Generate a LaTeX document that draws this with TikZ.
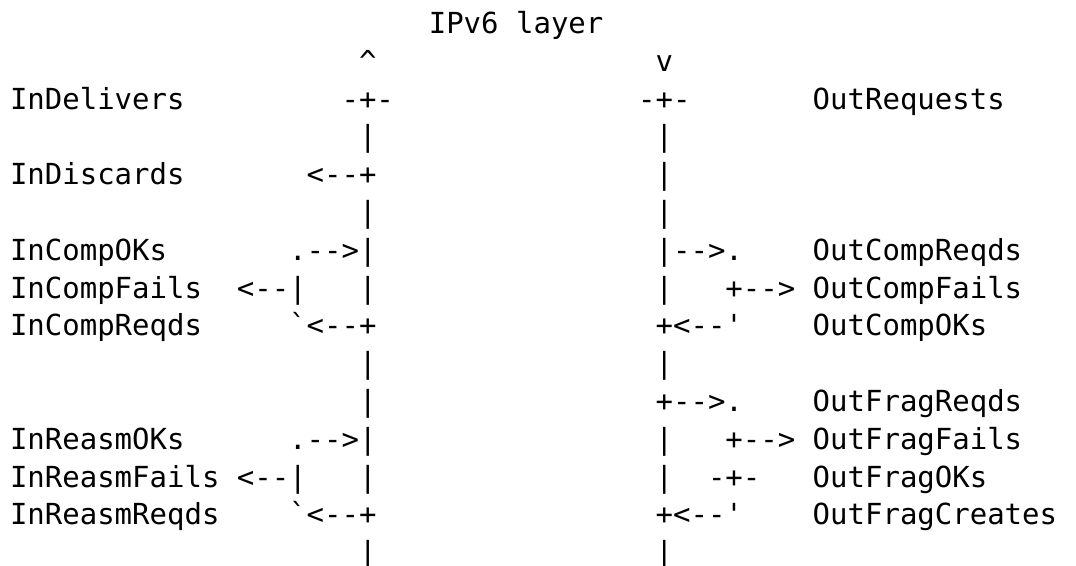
\documentclass[tikz,border=0pt]{standalone}
\usepackage{fontspec}
\setmonofont{DejaVu Sans Mono}
\tikzset{
  txt/.style={anchor=base west, inner sep=0pt, outer sep=0pt,
    font=\ttfamily\fontsize{29}{35}\selectfont, text=black}
}
% column/line to coordinates
\newcommand\cx[1]{10+#1*17.45}
\newcommand\ly[1]{33.4+(#1-1)*37.8}
\newcommand\frag[4]{\node[txt] (#1) at ({\cx{#3}},{\ly{#2}}) {#4};}
\begin{document}
\begin{tikzpicture}[x=1pt,y=-1pt]
\useasboundingbox (0,0) rectangle (1076,565);
\fill[white] (0,0) rectangle (1076,565);
% line 1
\frag{title}{1}{24}{IPv6 layer}
% line 2
\frag{upA}{2}{20}{\textasciicircum}
\frag{downA}{2}{37}{v}
% line 3
\frag{inDel}{3}{0}{InDelivers}
\frag{l3a}{3}{19}{-+-}
\frag{l3b}{3}{36}{-+-}
\frag{outReq}{3}{46}{OutRequests}
% line 4
\frag{l4a}{4}{20}{|}
\frag{l4b}{4}{37}{|}
% line 5
\frag{inDis}{5}{0}{InDiscards}
\frag{l5a}{5}{17}{<--+}
\frag{l5b}{5}{37}{|}
% line 6
\frag{l6a}{6}{20}{|}
\frag{l6b}{6}{37}{|}
% line 7
\frag{inCOK}{7}{0}{InCompOKs}
\frag{l7a}{7}{16}{.-->|}
\frag{l7b}{7}{37}{|-->.}
\frag{outCR}{7}{46}{OutCompReqds}
% line 8
\frag{inCF}{8}{0}{InCompFails}
\frag{l8a}{8}{13}{<--|}
\frag{l8b}{8}{20}{|}
\frag{l8c}{8}{37}{|}
\frag{l8d}{8}{41}{+-->}
\frag{outCF}{8}{46}{OutCompFails}
% line 9
\frag{inCR}{9}{0}{InCompReqds}
\frag{l9a}{9}{16}{\symbol{"60}<--+}
\frag{l9b}{9}{37}{+<--\symbol{"27}}
\frag{outCOK}{9}{46}{OutCompOKs}
% line 10
\frag{l10a}{10}{20}{|}
\frag{l10b}{10}{37}{|}
% line 11
\frag{l11a}{11}{20}{|}
\frag{l11b}{11}{37}{+-->.}
\frag{outFR}{11}{46}{OutFragReqds}
% line 12
\frag{inROK}{12}{0}{InReasmOKs}
\frag{l12a}{12}{16}{.-->|}
\frag{l12b}{12}{37}{|}
\frag{l12c}{12}{41}{+-->}
\frag{outFF}{12}{46}{OutFragFails}
% line 13
\frag{inRF}{13}{0}{InReasmFails}
\frag{l13a}{13}{13}{<--|}
\frag{l13b}{13}{20}{|}
\frag{l13c}{13}{37}{|}
\frag{l13d}{13}{40}{-+-}
\frag{outFOK}{13}{46}{OutFragOKs}
% line 14
\frag{inRR}{14}{0}{InReasmReqds}
\frag{l14a}{14}{16}{\symbol{"60}<--+}
\frag{l14b}{14}{37}{+<--\symbol{"27}}
\frag{outFC}{14}{46}{OutFragCreates}
% line 15
\frag{l15a}{15}{20}{|}
\frag{l15b}{15}{37}{|}
\end{tikzpicture}
\end{document}
